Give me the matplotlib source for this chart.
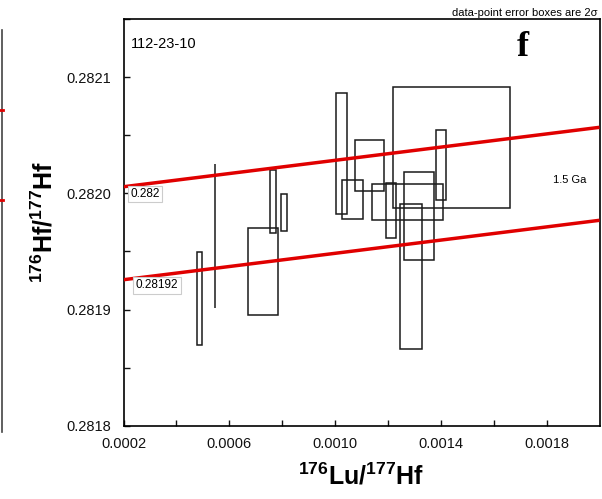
import numpy as np
import matplotlib.pyplot as plt
from matplotlib.patches import Rectangle
from matplotlib.lines import Line2D
from matplotlib.ticker import FixedLocator, MultipleLocator, FormatStrFormatter

plt.rcParams['font.family'] = ['Liberation Sans', 'DejaVu Sans']
plt.rcParams['mathtext.fontset'] = 'custom'
plt.rcParams['mathtext.bf'] = 'Liberation Sans:bold'
plt.rcParams['mathtext.rm'] = 'Liberation Sans'

# zircon spots: 176Lu/177Hf and 176Hf/177Hf with 2-sigma errors
lu_hf = [0.000487, 0.0005465, 0.0007655, 0.0008057, 0.0007283, 0.0010241, 0.0011303,
         0.0010662, 0.0014398, 0.0014007, 0.0012745, 0.0012124, 0.0013172, 0.0012877]
lu_err = [0.0000089, 0.0000012, 0.0000100, 0.0000113, 0.0000559, 0.0000220, 0.0000555,
          0.0000404, 0.0002200, 0.0000202, 0.0001340, 0.0000198, 0.0000559, 0.0000415]
hf_hf = [0.2819097, 0.2819634, 0.2819926, 0.2819834, 0.2819327, 0.2820344, 0.2820243,
         0.2819946, 0.2820394, 0.2820243, 0.2819924, 0.2819854, 0.2819804, 0.2819286]
hf_err = [0.0000401, 0.0000620, 0.0000271, 0.0000162, 0.0000378, 0.0000520, 0.0000219,
          0.0000165, 0.0000520, 0.0000299, 0.0000157, 0.0000239, 0.0000379, 0.0000621]

# 1.5 Ga reference lines, initial ratios at Lu/Hf = 0
ref_age = 1.5e9
lam = 1.867e-11
intercepts = [0.282, 0.28192]
intercept_labels = ['0.282', '0.28192']

x_major = [0.0002, 0.0006, 0.0010, 0.0014, 0.0018]
x_minor = [0.0004, 0.0008, 0.0012, 0.0016]

slope = np.exp(lam * ref_age) - 1

fig = plt.figure(figsize=(6.02, 4.99), dpi=100)
ax = fig.add_axes([123.5 / 602, 1 - 425.8 / 499, 476 / 602, 406.8 / 499])

for x, ex, y, ey in zip(lu_hf, lu_err, hf_hf, hf_err):
    ax.add_patch(Rectangle((x - ex, y - ey), 2 * ex, 2 * ey, fill=False,
                           edgecolor='#1a1a1a', linewidth=1.1, zorder=2))

xs = np.array([0.0002, 0.0020])
for b in intercepts:
    ax.plot(xs, b + slope * xs, color='#e00000', linewidth=2.5, zorder=3,
            solid_capstyle='butt')

ax.set_xlim(0.0002, 0.0020)
ax.set_ylim(0.2818, 0.28215)

ax.xaxis.set_major_locator(FixedLocator(x_major))
ax.xaxis.set_minor_locator(FixedLocator(x_minor))
ax.yaxis.set_major_locator(MultipleLocator(0.0001))
ax.yaxis.set_minor_locator(MultipleLocator(0.00005))
ax.xaxis.set_major_formatter(FormatStrFormatter('%.4f'))
ax.yaxis.set_major_formatter(FormatStrFormatter('%.4f'))
ax.tick_params(which='both', direction='in', length=4.5, width=1, colors='#111111',
               labelsize=10.5, top=False, right=False)
ax.tick_params(axis='y', pad=9)
ax.tick_params(axis='x', pad=8)
for s in ax.spines.values():
    s.set_linewidth(1.2)

ax.set_xlabel(r'$\mathbf{^{176}Lu/^{177}Hf}$', fontsize=18)
ax.set_ylabel(r'$\mathbf{^{176}Hf/^{177}Hf}$', fontsize=18)
ax.xaxis.set_label_coords(0.5, -0.092)
ax.yaxis.set_label_coords(-0.138, 0.5)

ax.text(0.0002814, 0.2819994, intercept_labels[0], fontsize=8.5, ha='center', va='center',
        bbox=dict(boxstyle='square,pad=0.2', fc='white', ec='#cccccc', lw=0.8), zorder=4)
ax.text(0.0003267, 0.2819209, intercept_labels[1], fontsize=8.5, ha='center', va='center',
        bbox=dict(boxstyle='square,pad=0.2', fc='white', ec='#cccccc', lw=0.8), zorder=4)
ax.text(0.9716, 0.605, '1.5 Ga', transform=ax.transAxes, fontsize=8, ha='right', va='center')

ax.text(0.015, 0.955, '112-23-10', transform=ax.transAxes, fontsize=10.5, va='top')
ax.text(0.827, 0.97, 'f', transform=ax.transAxes, fontsize=26, fontweight='bold',
        family='Liberation Serif', va='top')
fig.text(598 / 602, 1 - 13 / 499, 'data-point error boxes are 2\u03c3', fontsize=8,
         ha='right', va='center')

# edge of the neighbouring panel
fig.add_artist(Line2D([2 / 602, 2 / 602], [1 - 30 / 499, 1 - 432 / 499],
                      color='#444444', linewidth=1.2))
for py in [110, 200]:
    fig.add_artist(Line2D([0, 3 / 602], [1 - py / 499, 1 - py / 499],
                          color='#e00000', linewidth=2))

fig.savefig('out.png', dpi=100)
